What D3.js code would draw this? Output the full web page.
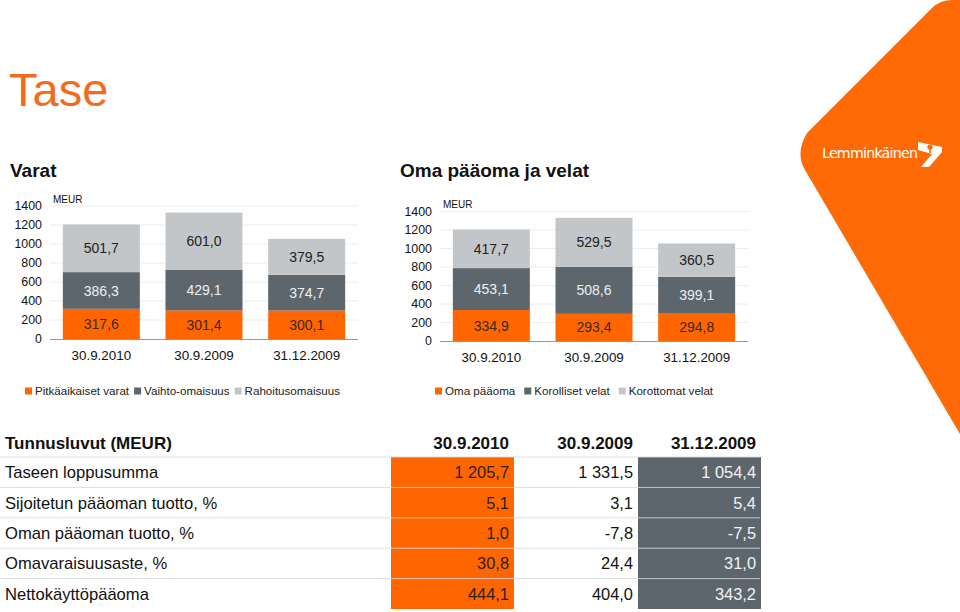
<!DOCTYPE html>
<html><head><meta charset="utf-8">
<script src="https://cdn.jsdelivr.net/npm/d3@7"></script>
<style>
html,body{margin:0;padding:0;background:#fff;}
svg{display:block;font-family:"Liberation Sans",Arial,sans-serif;}
</style></head>
<body>
<svg id="c" width="960" height="612"></svg>
<script>
// ---------- data ----------
const categories = ["30.9.2010", "30.9.2009", "31.12.2009"];
const yTicks = [0, 200, 400, 600, 800, 1000, 1200, 1400];

const varatSeries = ["Pitkäaikaiset varat", "Vaihto-omaisuus", "Rahoitusomaisuus"];
const pitkaaikaisetVarat = [317.6, 301.4, 300.1];
const vaihtoOmaisuus = [386.3, 429.1, 374.7];
const rahoitusOmaisuus = [501.7, 601.0, 379.5];

const velatSeries = ["Oma pääoma", "Korolliset velat", "Korottomat velat"];
const omaPaaoma = [334.9, 293.4, 294.8];
const korollisetVelat = [453.1, 508.6, 399.1];
const korottomatVelat = [417.7, 529.5, 360.5];

const tableTitle = "Tunnusluvut (MEUR)";
const tableRows = ["Taseen loppusumma", "Sijoitetun pääoman tuotto, %", "Oman pääoman tuotto, %", "Omavaraisuusaste, %", "Nettokäyttöpääoma"];
const col2010 = [1205.7, 5.1, 1.0, 30.8, 444.1];
const col2009 = [1331.5, 3.1, -7.8, 24.4, 404.0];
const col2009b = [1054.4, 5.4, -7.5, 31.0, 343.2];

// ---------- styles ----------
const ORANGE = "#ff6600";
const DARK = "#5e666d";
const LIGHT = "#c3c6c8";
const segColors = [ORANGE, DARK, LIGHT];
const segText = ["#3a2a22", "#eef0f2", "#222"];

const fi = d3.formatLocale({decimal: ",", thousands: "\u00a0", grouping: [3], currency: ["", "€"]});
const fmt = fi.format(",.1f");
const fmtMinus = v => fmt(v).replace("−", "-");

const svg = d3.select("#c");

// ---------- decoration: orange shape + logo ----------
svg.append("path")
  .attr("d", "M960,434 L805,170 Q795,153 807,133 L932,8 Q940,0 952,0 L960,0 Z")
  .attr("fill", "#ff6a06");
svg.append("text").attr("x", 822).attr("y", 158)
  .attr("fill", "#fff").attr("font-size", 14.2).attr("letter-spacing", 0.1)
  .attr("font-family", "'DejaVu Sans', Verdana, sans-serif").attr("textLength", 96)
  .text("Lemminkäinen");
svg.append("path")
  .attr("d", "M918,142 L942,147 L942,152 L929,167 L921,167 L932,154 L918,150 Z")
  .attr("fill", "#fff");
svg.append("circle").attr("cx", 930).attr("cy", 147).attr("r", 2.6).attr("fill", "#ff6a06");
svg.append("rect").attr("x", 929.2).attr("y", 147).attr("width", 1.6).attr("height", 6).attr("fill", "#ff6a06");

// ---------- titles ----------
svg.append("text").attr("x", 9).attr("y", 106).attr("fill", "#f26a1b")
  .attr("font-size", 47).text("Tase");
svg.append("text").attr("x", 10).attr("y", 177).attr("font-size", 19).attr("font-weight", "bold")
  .attr("fill", "#111").text("Varat");
svg.append("text").attr("x", 400).attr("y", 177).attr("font-size", 19).attr("font-weight", "bold")
  .attr("fill", "#111").text("Oma pääoma ja velat");

// ---------- stacked bar chart ----------
function drawChart(opt) {
  const g = svg.append("g");
  const x = d3.scaleBand().domain(categories).range([opt.x0, opt.x1])
    .paddingInner(0.25).paddingOuter(0.125);
  const y = d3.scaleLinear().domain([0, 1400]).range([opt.yBase, opt.yTop]);

  // gridlines
  g.append("g").selectAll("line").data(yTicks.slice(1)).join("line")
    .attr("x1", opt.x0).attr("x2", opt.x1)
    .attr("y1", d => y(d)).attr("y2", d => y(d))
    .attr("stroke", "#ececec").attr("stroke-width", 1);

  const rows = categories.map((c, i) => {
    const o = {cat: c};
    opt.keys.forEach((k, j) => o[k] = opt.values[j][i]);
    return o;
  });
  const stack = d3.stack().keys(opt.keys)(rows);

  const layers = g.append("g").selectAll("g").data(stack).join("g")
    .attr("fill", (d, i) => segColors[i]);
  layers.selectAll("rect").data(d => d).join("rect")
    .attr("x", d => x(d.data.cat))
    .attr("width", x.bandwidth())
    .attr("y", d => y(d[1]))
    .attr("height", d => y(d[0]) - y(d[1]));

  // value labels
  stack.forEach((layer, i) => {
    g.append("g").selectAll("text").data(layer).join("text")
      .attr("x", d => x(d.data.cat) + x.bandwidth() / 2)
      .attr("y", d => (y(d[0]) + y(d[1])) / 2)
      .attr("dy", "0.36em")
      .attr("text-anchor", "middle")
      .attr("font-size", 14)
      .attr("fill", segText[i])
      .text(d => fmt(d[1] - d[0]));
  });

  // y axis
  const ya = g.append("g").attr("transform", `translate(${opt.x0},0)`)
    .call(d3.axisLeft(y).tickValues(yTicks).tickSize(0).tickPadding(8).tickFormat(d3.format("d")));
  ya.select(".domain").remove();
  ya.selectAll("text").attr("font-size", 12.4).attr("fill", "#111")
    .attr("font-family", "'Liberation Sans',Arial,sans-serif");

  // x axis
  const xa = g.append("g").attr("transform", `translate(0,${opt.yBase})`)
    .call(d3.axisBottom(x).tickSize(0).tickPadding(11));
  xa.select(".domain").attr("stroke", "#8d9aa6").attr("d", `M${opt.x0},0.5H${opt.x1}`);
  xa.selectAll("text").attr("font-size", 13.4).attr("fill", "#111")
    .attr("font-family", "'Liberation Sans',Arial,sans-serif");

  // unit label
  g.append("text").attr("x", opt.x0 + 3).attr("y", opt.meurY)
    .attr("font-size", 10).attr("fill", "#111").text("MEUR");

  // legend
  const lg = g.append("g").attr("transform", `translate(${opt.legendX},${opt.legendY})`);
  let cx = 0;
  opt.series.forEach((name, i) => {
    lg.append("rect").attr("x", cx).attr("y", -3.5).attr("width", 7).attr("height", 7)
      .attr("fill", segColors[i]);
    const t = lg.append("text").attr("x", cx + 10).attr("y", 0).attr("dy", "0.36em")
      .attr("font-size", 11.6).attr("fill", "#222").text(name);
    cx += 10 + t.node().getComputedTextLength() + opt.legendGap;
  });
}

drawChart({x0: 50, x1: 358, yBase: 339, yTop: 206, meurY: 203,
  keys: ["a", "b", "c"], values: [pitkaaikaisetVarat, vaihtoOmaisuus, rahoitusOmaisuus],
  series: varatSeries, legendX: 25, legendY: 391, legendGap: 5});
drawChart({x0: 440, x1: 748, yBase: 341, yTop: 211.5, meurY: 208,
  keys: ["a", "b", "c"], values: [omaPaaoma, korollisetVelat, korottomatVelat],
  series: velatSeries, legendX: 435, legendY: 391, legendGap: 9});

// ---------- table ----------
const tg = svg.append("g");
const cols = [
  {label: categories[0], values: col2010, right: 509, fill: ORANGE, text: "#2b2119"},
  {label: categories[1], values: col2009, right: 633, fill: null, text: "#111"},
  {label: categories[2], values: col2009b, right: 756, fill: DARK, text: "#f2f3f4"}
];
const rowTop = 457, rowH = 30.4;
const ry = d3.scaleBand().domain(d3.range(tableRows.length))
  .range([rowTop, rowTop + rowH * tableRows.length]);

cols.forEach(c => {
  if (c.fill) tg.append("rect").attr("x", c.right - 118).attr("y", rowTop)
    .attr("width", 123).attr("height", rowH * tableRows.length).attr("fill", c.fill);
});
// separators
tg.append("g").selectAll("line").data(d3.range(tableRows.length + 1)).join("line")
  .attr("x1", 0).attr("x2", 760)
  .attr("y1", d => rowTop + d * rowH).attr("y2", d => rowTop + d * rowH)
  .attr("stroke", (d) => d === tableRows.length ? "none" : "#d6d8da")
  .attr("stroke-opacity", 0.85).attr("stroke-width", 1);

tg.append("text").attr("x", 5).attr("y", 443).attr("dy", "0.36em")
  .attr("font-size", 17).attr("font-weight", "bold").attr("fill", "#111").text(tableTitle);
cols.forEach(c => {
  tg.append("text").attr("x", c.right).attr("y", 443).attr("dy", "0.36em")
    .attr("text-anchor", "end").attr("font-size", 17).attr("font-weight", "bold")
    .attr("fill", "#111").text(c.label);
});
tg.append("g").selectAll("text").data(tableRows).join("text")
  .attr("x", 5).attr("y", (d, i) => ry(i) + ry.bandwidth() / 2).attr("dy", "0.36em")
  .attr("font-size", 16.6).attr("fill", "#111").text(d => d);
cols.forEach(c => {
  tg.append("g").selectAll("text").data(c.values).join("text")
    .attr("x", c.right).attr("y", (d, i) => ry(i) + ry.bandwidth() / 2).attr("dy", "0.36em")
    .attr("text-anchor", "end").attr("font-size", 16.4).attr("fill", c.text)
    .text(d => fmtMinus(d));
});
</script>
</body></html>
